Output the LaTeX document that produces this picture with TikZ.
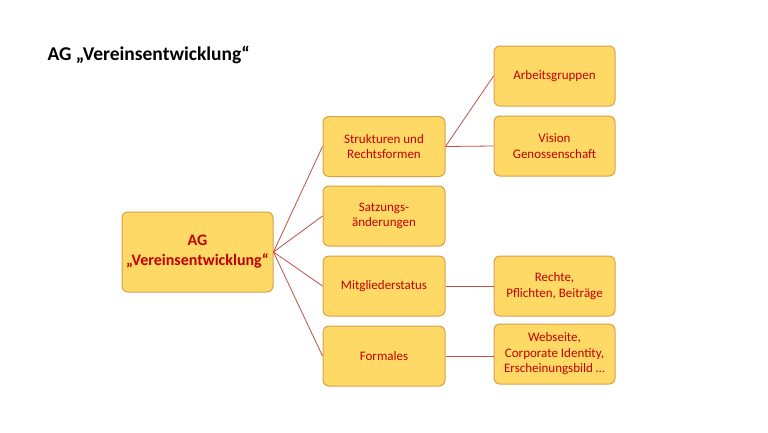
\documentclass[tikz,border=0pt]{standalone}
\usepackage{fontspec}
\setmainfont{Carlito}
\definecolor{boxfill}{HTML}{FFD966}
\definecolor{boxdraw}{HTML}{D9A04A}
\definecolor{txtred}{HTML}{C00000}
\definecolor{linered}{HTML}{C0504D}
\tikzset{
  box/.style={draw=boxdraw, fill=boxfill, line width=1pt, rounded corners=6pt,
    text=txtred, align=center, inner sep=0pt,
    font=\fontsize{13}{15.5}\selectfont},
  lvl/.style={box, minimum width=122pt, minimum height=60pt},
  rootbox/.style={box, minimum width=151pt, minimum height=80pt,
    font=\fontsize{16}{20}\selectfont\bfseries},
  conn/.style={draw=linered, line width=0.8pt}
}
\begin{document}
\begin{tikzpicture}[x=1pt,y=-1pt]
\useasboundingbox (0,0) rectangle (768,432);
\fill[white] (0,0) rectangle (768,432);
\node[anchor=west, font=\fontsize{19.5}{22}\selectfont\bfseries] (title) at (44,55) {AG „Vereinsentwicklung“};
\node[rootbox] (root) at (197.5,252) {AG\\„Vereinsentwicklung“};
\node[lvl] (s) at (384,146.5) {Strukturen und\\Rechtsformen};
\node[lvl] (sa) at (384,216) {Satzungs-\\änderungen};
\node[lvl] (m) at (384,286) {Mitgliederstatus};
\node[lvl] (f) at (384,356) {Formales};
\node[lvl, minimum width=121pt] (ag) at (554.5,76) {Arbeitsgruppen};
\node[lvl, minimum width=121pt] (v) at (554.5,146) {Vision\\Genossenschaft};
\node[lvl, minimum width=121pt] (r) at (554.5,286) {Rechte,\\Pflichten, Beiträge};
\node[lvl, minimum width=121pt] (w) at (554.5,354) {Webseite,\\Corporate Identity,\\Erscheinungsbild …};
\foreach \t in {s,sa,m,f} \draw[conn] (root.east) -- (\t.west);
\draw[conn] (s.east) -- (ag.west);
\draw[conn] (s.east) -- (v.west);
\draw[conn] (m.east) -- (r.west);
\draw[conn] (f.east) -- (f.east -| w.west);
\end{tikzpicture}
\end{document}
